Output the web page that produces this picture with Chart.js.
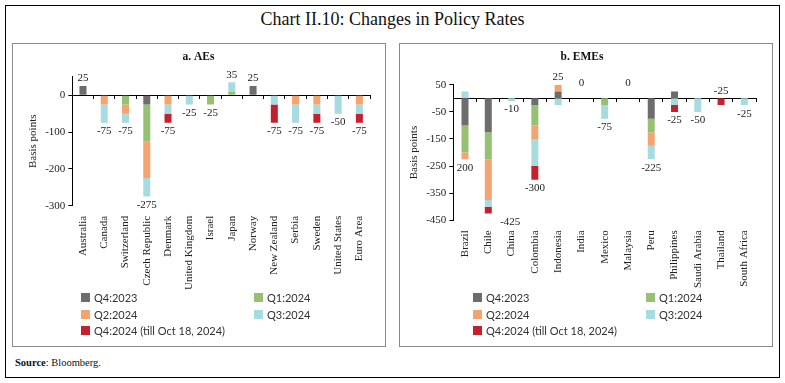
<!DOCTYPE html>
<html>
<head>
<meta charset="utf-8">
<script src="https://cdn.jsdelivr.net/npm/chart.js@4.4.1/dist/chart.umd.min.js"></script>
<style>
  body { margin: 0; width: 785px; height: 383px; background: #fff; font-family: "Liberation Serif", serif; }
  #frame { position: absolute; left: 5px; top: 5px; width: 775px; height: 373px; border: 1px solid #000; box-sizing: border-box; }
  #title { position: absolute; left: 0; top: 9px; width: 785px; text-align: center; font-size: 18px; color: #111; }
  .panel { position: absolute; top: 43px; width: 374px; height: 304px; border: 1.5px solid #8a8a8a; box-sizing: border-box; }
  .wrap { position: absolute; left: 0; top: 0; width: 371px; height: 248px; }
  .legend { position: absolute; top: 245px; display: grid; grid-template-columns: 173px 173px; font-family: Lato, sans-serif; font-size: 11px; color: #333; }
  .legend div { height: 16.8px; display: flex; align-items: center; }
  .legend span { display: inline-block; width: 9px; height: 9px; margin-right: 4px; }
  #source { position: absolute; left: 15px; top: 357px; font-size: 10.5px; color: #111; }
</style>
</head>
<body>
<div id="frame"></div>
<div id="title">Chart II.10: Changes in Policy Rates</div>
<div class="panel" style="left:12px">
  <div class="wrap"><canvas id="aes"></canvas></div>
  <div class="legend" id="legAes" style="left:68px"></div>
</div>
<div class="panel" style="left:399px">
  <div class="wrap"><canvas id="emes"></canvas></div>
  <div class="legend" id="legEmes" style="left:73px"></div>
</div>
<div id="source"><b>Source</b>: Bloomberg.</div>
<script>
const seriesNames = ["Q4:2023", "Q1:2024", "Q2:2024", "Q3:2024", "Q4:2024 (till Oct 18, 2024)"];
const seriesColors = ["#6d6d6d", "#97c172", "#f4a471", "#a6dbdf", "#c5202d"];

// a. AEs
const aeCountries = ["Australia", "Canada", "Switzerland", "Czech Republic", "Denmark", "United Kingdom", "Israel", "Japan", "Norway", "New Zealand", "Serbia", "Sweden", "United States", "Euro Area"];
const aeQ4_23 = [25, 0, 0, -25, 0, 0, 0, 0, 25, 0, 0, 0, 0, 0];
const aeQ1_24 = [0, 0, -25, -100, 0, 0, -25, 10, 0, 0, 0, 0, 0, 0];
const aeQ2_24 = [0, -25, -25, -100, -25, 0, 0, 0, 0, 0, -25, -25, 0, -25];
const aeQ3_24 = [0, -50, -25, -50, -25, -25, 0, 25, 0, -25, -50, -25, -50, -25];
const aeQ4_24 = [0, 0, 0, 0, -25, 0, 0, 0, 0, -50, 0, -25, 0, -25];
const aeTotals = ["25", "-75", "-75", "-275", "-75", "-25", "-25", "35", "25", "-75", "-75", "-75", "-50", "-75"];
const aeYTicks = [0, -100, -200, -300];

// b. EMEs
const emCountries = ["Brazil", "Chile", "China", "Colombia", "Indonesia", "India", "Mexico", "Malaysia", "Peru", "Philippines", "Saudi Arabia", "Thailand", "South Africa"];
const emQ4_23 = [-100, -125, 0, -25, 25, 0, 0, 0, -75, 25, 0, 0, 0];
const emQ1_24 = [-100, -100, 0, -75, 0, 0, -25, 0, -50, 0, 0, 0, 0];
const emQ2_24 = [-25, -150, 0, -50, 25, 0, 0, 0, -50, 0, 0, 0, 0];
const emQ3_24 = [25, -25, -10, -100, -25, 0, -50, 0, -50, -25, -50, 0, -25];
const emQ4_24 = [0, -25, 0, -50, 0, 0, 0, 0, 0, -25, 0, -25, 0];
const emTotals = ["200", "-425", "-10", "-300", "25", "0", "-75", "0", "-225", "-25", "-50", "-25", "-25"];
const emYTicks = [50, -50, -150, -250, -350, -450];

const serif = "'Liberation Serif', serif";

const totalLabels = {
  id: "totalLabels",
  afterDatasetsDraw(chart, args, opts) {
    const { ctx } = chart;
    const x = chart.scales.x, y = chart.scales.y;
    ctx.save();
    ctx.font = "11px " + serif;
    ctx.fillStyle = "#222";
    ctx.textAlign = "center";
    opts.text.forEach((t, i) => {
      let pos = 0, neg = 0;
      chart.data.datasets.forEach(ds => {
        const v = ds.data[i] || 0;
        if (v > 0) pos += v; else neg += v;
      });
      const cx = x.getPixelForValue(i) + ((opts.dx || [])[i] || 0);
      if (opts.place[i] === "t") {
        ctx.textBaseline = "bottom";
        ctx.fillText(t, cx, y.getPixelForValue(pos) - (pos === 0 && neg === 0 ? 10 : 2));
      } else {
        ctx.textBaseline = "top";
        ctx.fillText(t, cx, y.getPixelForValue(neg) + 3);
      }
    });
    ctx.restore();
  }
};

function makeChart(id, title, labels, series, totals, place, dx, min, max, yTicks, barPct, titlePad, pad) {
  return new Chart(document.getElementById(id), {
    type: "bar",
    data: {
      labels: labels,
      datasets: series.map((d, k) => ({
        label: seriesNames[k],
        data: d,
        backgroundColor: seriesColors[k],
        borderWidth: 0,
        barPercentage: barPct,
        categoryPercentage: 1,
        xAxisID: "x",
        yAxisID: "y"
      }))
    },
    options: {
      responsive: true,
      maintainAspectRatio: false,
      animation: false,
      layout: { padding: pad },
      plugins: {
        legend: { display: false },
        tooltip: { enabled: false },
        title: {
          display: true,
          text: title,
          font: { family: serif, size: 11.5, weight: "bold" },
          color: "#111",
          padding: { top: 6, bottom: titlePad }
        },
        totalLabels: { text: totals, place: place, dx: dx }
      },
      scales: {
        x: {
          type: "category",
          stacked: true,
          position: { y: 0 },
          offset: true,
          ticks: { display: false },
          grid: { offset: true, drawOnChartArea: false, drawTicks: true, tickLength: 3, color: "#000" },
          border: { color: "#000", width: 1 }
        },
        xl: {
          type: "category",
          position: "bottom",
          offset: true,
          grid: { display: false },
          border: { display: false },
          ticks: { minRotation: 90, maxRotation: 90, autoSkip: false, padding: 2, color: "#222", font: { family: serif, size: 11 } }
        },
        y: {
          stacked: true,
          min: min,
          max: max,
          afterBuildTicks: ax => { ax.ticks = yTicks.map(v => ({ value: v })); },
          ticks: { color: "#222", padding: 3, font: { family: serif, size: 11 } },
          grid: { drawOnChartArea: false, drawTicks: true, tickLength: 4, color: "#000" },
          border: { color: "#000", width: 1 },
          title: { display: true, text: "Basis points", color: "#222", font: { family: serif, size: 11 }, padding: { top: 0, bottom: 2 } }
        }
      }
    },
    plugins: [totalLabels]
  });
}

makeChart("aes", "a. AEs", aeCountries,
  [aeQ4_23, aeQ1_24, aeQ2_24, aeQ3_24, aeQ4_24], aeTotals,
  ["t", "b", "b", "b", "b", "b", "b", "t", "t", "b", "b", "b", "b", "b"], [],
  -300, 50, aeYTicks, 0.33, 13, { left: 14, right: 14, bottom: 0 });

makeChart("emes", "b. EMEs", emCountries,
  [emQ4_23, emQ1_24, emQ2_24, emQ3_24, emQ4_24], emTotals,
  ["b", "b", "b", "b", "t", "t", "b", "t", "b", "b", "b", "t", "b"], [0, 22],
  -450, 50, emYTicks, 0.3, 21, { left: 8, right: 15, bottom: 2 });

function makeLegend(id) {
  const el = document.getElementById(id);
  seriesNames.forEach((n, k) => {
    const d = document.createElement("div");
    d.innerHTML = '<span style="background:' + seriesColors[k] + '"></span>' + n;
    el.appendChild(d);
  });
}
makeLegend("legAes");
makeLegend("legEmes");
</script>
</body>
</html>
